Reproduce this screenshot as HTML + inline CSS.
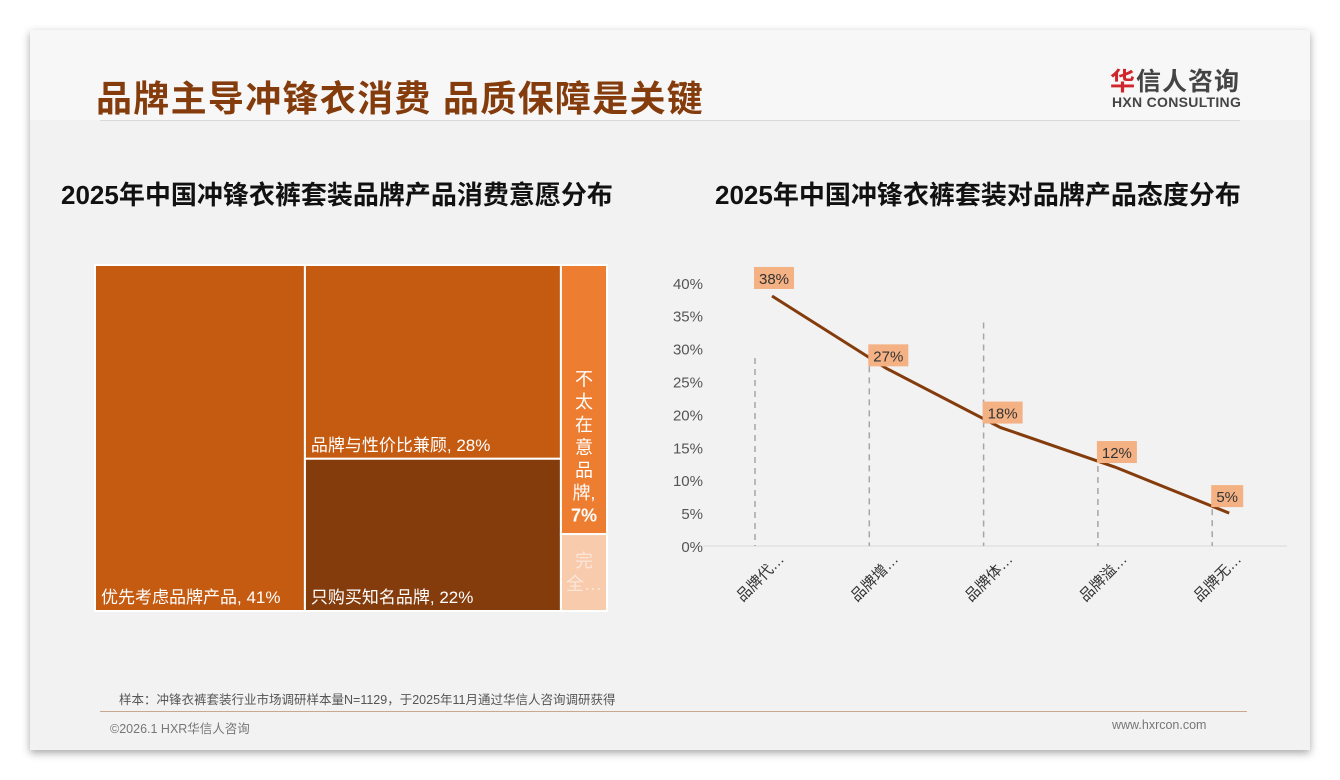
<!DOCTYPE html>
<html><head><meta charset="utf-8"><style>
body{margin:0;width:1340px;height:780px;background:#fff;font-family:"Liberation Sans","Noto Sans CJK SC",sans-serif;position:relative;overflow:hidden}
.card{position:absolute;left:30px;top:30px;width:1280px;height:720px;background:#f2f2f2;box-shadow:0 3px 8px rgba(0,0,0,.35)}
.abs{position:absolute}
</style></head><body>
<div class="card">
 <div class="abs" style="left:0;top:0;width:1280px;height:90px;background:#f7f7f7"></div>
 <div class="abs" style="left:66px;top:40px;font-size:36px;font-weight:bold;color:#843c0c;letter-spacing:1.3px;white-space:nowrap">品牌主导冲锋衣消费 品质保障是关键</div>
 <div class="abs" style="left:1080px;top:32px;font-size:25px;color:#444;font-weight:bold;letter-spacing:1px"><span style="color:#d0262b">华</span>信人咨询</div>
 <div class="abs" style="left:1082px;top:64px;font-size:14px;color:#444;font-weight:bold;letter-spacing:0.3px">HXN CONSULTING</div>
 <div class="abs" style="left:70px;top:90px;width:1140px;height:1px;background:#d9d9d9"></div>
 <div class="abs" style="left:31px;top:145px;font-size:26px;font-weight:bold;color:#111;white-space:nowrap">2025年中国冲锋衣裤套装品牌产品消费意愿分布</div>
 <div class="abs" style="left:685px;top:145px;font-size:26px;font-weight:bold;color:#111;white-space:nowrap">2025年中国冲锋衣裤套装对品牌产品态度分布</div>
 <div class="abs" style="left:89px;top:659px;font-size:12.5px;color:#555;white-space:nowrap">样本：冲锋衣裤套装行业市场调研样本量N=1129，于2025年11月通过华信人咨询调研获得</div>
 <div class="abs" style="left:70px;top:681px;width:1147px;height:1px;background:#c9a88f"></div>
 <div class="abs" style="left:80px;top:688px;font-size:12.5px;color:#777">©2026.1 HXR华信人咨询</div>
 <div class="abs" style="left:1082px;top:688px;font-size:12.5px;color:#777">www.hxrcon.com</div>
</div>
<svg id="tm" class="abs" style="left:0;top:0" width="1340" height="780"></svg>
<svg id="lc" class="abs" style="left:0;top:0" width="1340" height="780"></svg>
<script>
const NS='http://www.w3.org/2000/svg';
function mk(p,t,a){const e=document.createElementNS(NS,t);for(const k in a)e.setAttribute(k,a[k]);p.appendChild(e);return e;}
// treemap data
const tmLabels=[["优先考虑品牌产品"],["品牌与性价比兼顾","只购买知名品牌"],["不太在意品牌","完全…"]];
const tmValues=[[41],[28,22],[7,2]];
const tmColors=[["#c55a11"],["#c55a11","#843c0c"],["#ed7d31","#f8cbad"]];
const tm=document.getElementById('tm');
const X0=95,Y0=265,W=512,H=346;
const total=tmValues.flat().reduce((a,b)=>a+b,0);
let cx=X0;
tmValues.forEach((col,ci)=>{
  const cs=col.reduce((a,b)=>a+b,0);const cw=cs/total*W;let cy=Y0;
  col.forEach((v,ri)=>{
    const ch=v/cs*H;
    const r=mk(tm,'rect',{x:cx,y:cy,width:cw,height:ch,fill:tmColors[ci][ri],stroke:'#fff','stroke-width':2});
    
    
    const lab=tmLabels[ci][ri];
    if(cw>100){
      const t=mk(tm,'text',{x:cx+6,y:cy+ch-8,fill:'#fff','font-size':17});
      t.textContent=lab+', '+v+'%';
      
      
    } else {
      const lines=ri===0?[...lab.slice(0,-1)].concat([lab.slice(-1)+',',v+'%']):[lab.slice(0,1),lab.slice(1)];
      const lh=22.7;
      const startY=ri===0?cy+ch/2-(lines.length-1)*lh/2+54:cy+ch/2-(lines.length-1)*lh/2+6;
      lines.forEach((s,i)=>{
        const t=mk(tm,'text',{x:cx+cw/2,y:startY+i*lh,fill:ri===0?'#fff':'#fbe6d8','font-size':18,'text-anchor':'middle','font-weight':(s.indexOf('%')>=0?'bold':'normal')});
        t.textContent=s;
        
        
      });
    }
    cy+=ch;
  });
  cx+=cw;
});
// line chart data
const lcCats=["品牌代…","品牌增…","品牌体…","品牌溢…","品牌无…"];
const lcVals=[38,27,18,12,5];
const lcTicks=[0,5,10,15,20,25,30,35,40];
const lc=document.getElementById('lc');
const yS=v=>546-v*6.58;
const bandX=i=>755+i*114.3;
const ptX=i=>bandX(i)+17;
const dropOff=[62,-2,-105,-12,-15];
mk(lc,'line',{x1:703,x2:1287,y1:546,y2:546,stroke:'#d9d9d9','stroke-width':1});
lcTicks.forEach(t=>{const e=mk(lc,'text',{x:703,y:yS(t)+6,'text-anchor':'end','font-size':15,fill:'#555'});e.textContent=t+'%';

});
lcVals.forEach((v,i)=>{
  const d=mk(lc,'line',{x1:bandX(i),x2:bandX(i),y1:yS(v)+dropOff[i],y2:546,stroke:'#a6a6a6','stroke-width':1.5,'stroke-dasharray':'6,5'});
  
  
  const l=mk(lc,'text',{transform:`translate(${bandX(i)+30},560) rotate(-45)`,'text-anchor':'end','font-size':15,fill:'#333'});
  l.textContent=lcCats[i];
  
  
});
const pl=mk(lc,'polyline',{points:lcVals.map((v,i)=>ptX(i)+','+yS(v)).join(' '),fill:'none',stroke:'#843c0c','stroke-width':3});


lcVals.forEach((v,i)=>{
  const bx=bandX(i)-1,by=yS(v)-(i===0?29:i===4?28:i===1?24:26);const w=v>=10?40:32;
  const b=mk(lc,'rect',{x:bx,y:by,width:w,height:22,fill:'#f4b183'});
  
  
  const t=mk(lc,'text',{x:bx+w/2,y:by+17,'text-anchor':'middle','font-size':15,fill:'#333'});
  t.textContent=v+'%';
  
  
});
</script>
</body></html>
